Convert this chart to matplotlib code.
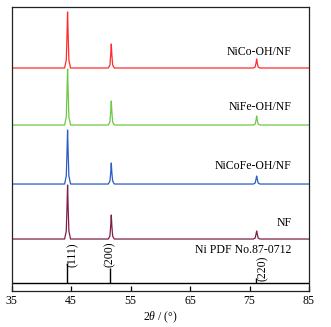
import numpy as np
import matplotlib.pyplot as plt

plt.rcParams['font.family'] = 'Liberation Serif'
plt.rcParams['mathtext.fontset'] = 'custom'
plt.rcParams['mathtext.it'] = 'Liberation Serif:italic'
plt.rcParams['mathtext.rm'] = 'Liberation Serif'

# 2theta grid (deg) and intensities above each trace's baseline (a.u.)
two_theta = [35.0,
             43.9, 44.18, 44.3, 44.4, 44.5, 44.62, 44.9,
             51.25, 51.52, 51.65, 51.75, 51.85, 51.98, 52.25,
             75.65, 75.95, 76.1, 76.2, 76.3, 76.45, 76.75,
             85.0]

nf = [0, 0, 8, 31, 54, 31, 8, 0, 0, 3, 13, 24, 13, 3, 0, 0, 1, 5, 8, 5, 1, 0, 0]
nicofe = [0, 0, 8, 31, 54, 31, 8, 0, 0, 3, 11, 21, 11, 3, 0, 0, 1, 5, 8, 5, 1, 0, 0]
nife = [0, 0, 8, 32, 56, 32, 8, 0, 0, 3, 13, 24, 13, 3, 0, 0, 1, 5, 9, 5, 1, 0, 0]
nico = [0, 0, 8, 32, 56, 32, 8, 0, 0, 3, 13, 24, 13, 3, 0, 0, 1, 5, 9, 5, 1, 0, 0]

samples = ['NF', 'NiCoFe-OH/NF', 'NiFe-OH/NF', 'NiCo-OH/NF']
offsets = [52, 107, 166, 223]
colors = ['#7f1f48', '#2a5cc4', '#6cc846', '#ff2b2b']

# Ni PDF No.87-0712 reference sticks
ref_pos = [44.3, 51.6, 76.1]
ref_int = [20, 15, 5]
ref_hkl = ['(111)', '(200)', '(220)']
ref_base = 8

fig = plt.figure(figsize=(3.31, 3.27), dpi=100)
ax = fig.add_axes([0.0353, 0.110, 0.8982, 0.8686])

for y, off, c, name in zip([nf, nicofe, nife, nico], offsets, colors, samples):
    ax.plot(two_theta, np.array(y) + off, color=c, lw=0.9)

ax.axhline(ref_base, color='black', lw=1.0)
ax.vlines(ref_pos, ref_base, np.array(ref_int) + ref_base, color='black', lw=1.0)

# labels
lab_y = [68, 125, 184, 239]
for name, ly in zip(samples, lab_y):
    ax.text(82.1, ly, name, ha='right', va='center', fontsize=8.5)
ax.text(82.1, 41, 'Ni PDF No.87-0712', ha='right', va='center', fontsize=8.5)

hkl_xy = [(45.3, 36), (51.55, 37), (77.2, 23)]
for t, (hx, hy) in zip(ref_hkl, hkl_xy):
    ax.text(hx, hy, t, rotation=90, ha='center', va='center', fontsize=8.5)

ax.set_xlim(35, 85)
ax.set_ylim(0, 284)
ax.set_xticks([35, 45, 55, 65, 75, 85])
ax.set_yticks([])
ax.tick_params(axis='x', direction='in', length=3.5, width=0.9,
               labelsize=8.5, pad=3)
for s in ax.spines.values():
    s.set_linewidth(0.9)
    s.set_color('#222222')
ax.set_xlabel(r'2$\it{\theta}$ / (°)', fontsize=8.5, labelpad=2)

fig.savefig('out.png', dpi=100)
